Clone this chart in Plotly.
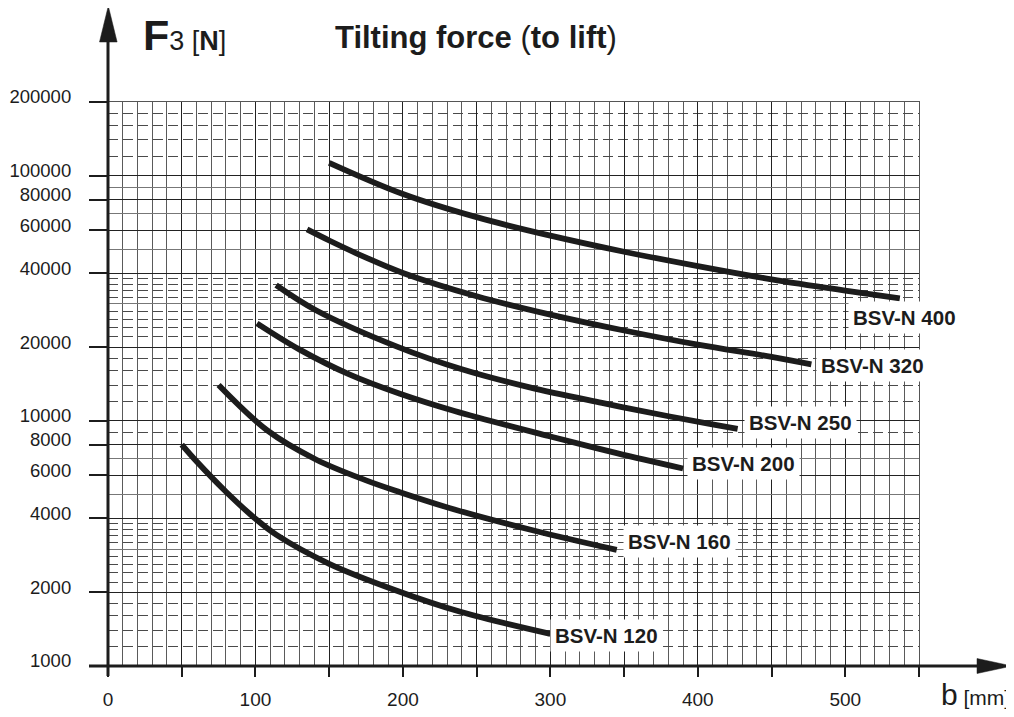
import numpy as np
import plotly.graph_objects as go

# ---------------- data ----------------
b_400 = [150, 200, 250, 300, 350, 400, 450, 500, 537]
f_400 = [113000, 84300, 67800, 57000, 49000, 42800, 37800, 34000, 31600]

b_320 = [135, 150, 175, 200, 250, 300, 350, 400, 450, 477]
f_320 = [60400, 54450, 46350, 40150, 32250, 27140, 23370, 20460, 18240, 17000]

b_250 = [114, 141, 196, 240, 286, 335, 381, 408, 427]
f_250 = [35800, 28280, 20090, 16240, 13700, 11840, 10420, 9730, 9280]

b_200 = [101, 130, 164, 198, 235, 300, 345, 390]
f_200 = [25000, 19530, 15440, 12900, 10970, 8635, 7390, 6395]

b_160 = [75, 108, 141, 175, 198, 235, 290, 345]
f_160 = [14000, 9145, 6960, 5720, 5120, 4352, 3555, 2977]

b_120 = [50, 60, 80, 101, 114, 150, 194, 239, 300]
f_120 = [8000, 6840, 5140, 3940, 3434, 2612, 2048, 1664, 1352]

series_names = ["BSV-N 400", "BSV-N 320", "BSV-N 250", "BSV-N 200", "BSV-N 160", "BSV-N 120"]
series_b = [b_400, b_320, b_250, b_200, b_160, b_120]
series_f = [f_400, f_320, f_250, f_200, f_160, f_120]

y_label_vals = [1000, 2000, 4000, 6000, 8000, 10000, 20000, 40000, 60000, 80000, 100000, 200000]
y_solid_unlabeled = [3000, 5000, 7000, 30000, 50000, 70000, 90000]
y_dashed = [1200, 1400, 1600, 1800, 2200, 2400, 2600, 2800, 3200, 3400, 3600, 3800, 9000,
            12000, 14000, 16000, 18000, 22000, 24000, 26000, 28000, 32000, 34000, 36000, 38000,
            120000, 140000, 160000, 180000]
x_tick_vals = [0, 50, 100, 150, 200, 250, 300, 350, 400, 450, 500, 550]
x_tick_text = ["0", "", "100", "", "200", "", "300", "", "400", "", "500", ""]

title_text = "<b>Tilting force </b>(<b>to lift</b>)"
y_title = "<span style='font-size:43px'><b>F</b></span>3 [<b>N</b>]"
x_title = "<span style='font-size:30px'>b</span> [mm]"

# ---------------- layout geometry (style) ----------------
OFF = 8  # page body margin
W, H = 1014 - OFF, 717 - OFF
ML, MR, MT, MB = 108 - OFF, 95, 102 - OFF, 51
PW, PH = W - ML - MR, H - MT - MB


def pxx(px):
    return (px - OFF - ML) / PW


def pxy(py):
    return (H + OFF - MB - py) / PH


INK = "#1c1c1c"
FONT = "Liberation Sans"

# label pixel offsets relative to the curve end (style)
label_offsets = {
    "BSV-N 400": (-52, -19),
    "BSV-N 320": (5, -1),
    "BSV-N 250": (6, 6),
    "BSV-N 200": (4, 5),
    "BSV-N 160": (6, 8),
    "BSV-N 120": (0, -2),
}

fig = go.Figure()

for i, (name, bx, fy) in enumerate(zip(series_names, series_b, series_f)):
    fig.add_trace(go.Scatter(
        x=bx, y=fy, mode="lines", name=name,
        line=dict(color=INK, width=5.8, shape="spline", smoothing=1.0),
        yaxis="y2" if i == len(series_names) - 1 else "y",
        showlegend=False, hoverinfo="skip",
    ))
    dx, dy = label_offsets[name]
    fig.add_annotation(
        x=bx[-1], y=np.log10(fy[-1]), xref="x", yref="y",
        text="<b>" + name + "</b>", showarrow=False,
        xanchor="left", yanchor="middle", xshift=dx, yshift=dy,
        bgcolor="white", borderpad=4,
        font=dict(family=FONT, size=20.5, color=INK),
    )

yrange = [3, np.log10(200000)]

fig.update_layout(
    width=W, height=H,
    margin=dict(l=ML, r=MR, t=MT, b=MB, pad=0, autoexpand=False),
    paper_bgcolor="white", plot_bgcolor="white",
    font=dict(family=FONT, color=INK),
    xaxis=dict(
        range=[0, 550], tickmode="array", tickvals=x_tick_vals, ticktext=x_tick_text,
        ticks="outside", ticklen=10, tickwidth=1.5, tickcolor=INK,
        showgrid=True, gridcolor="#222", gridwidth=1.2,
        minor=dict(dtick=10, tick0=0, showgrid=True, gridcolor="#5a5a5a", gridwidth=1.2, ticks=""),
        showline=True, mirror=True, linecolor="#555", linewidth=1.2,
        zeroline=False, tickfont=dict(family=FONT, size=19, color=INK),
        ticklabelstandoff=6, automargin=False,
    ),
    yaxis=dict(
        type="log", range=yrange, tickmode="array", tickvals=y_label_vals,
        ticktext=[str(v) for v in y_label_vals],
        ticks="outside", ticklen=18, tickwidth=1.5, tickcolor=INK,
        showgrid=True, gridcolor="#222", gridwidth=1.3,
        minor=dict(tickmode="array", tickvals=y_dashed, showgrid=True, gridcolor="#4a4a4a",
                   gridwidth=1.1, griddash="10px,5px", ticks=""),
        showline=True, mirror=True, linecolor="#555", linewidth=1.2,
        zeroline=False, tickfont=dict(family=FONT, size=18.5, color=INK),
        ticklabelstandoff=14, ticklabelshift=-5, automargin=False,
    ),
    yaxis2=dict(
        type="log", range=yrange, overlaying="y", side="left",
        tickmode="array", tickvals=y_solid_unlabeled, showticklabels=False, ticks="",
        showgrid=True, gridcolor="#777", gridwidth=1.2, zeroline=False, showline=False,
        automargin=False,
    ),
)

# axis lines with arrows
shapes = [
    dict(type="line", xref="paper", yref="paper", x0=pxx(89), x1=pxx(980), y0=0, y1=0,
         line=dict(color=INK, width=3)),
    dict(type="line", xref="paper", yref="paper", x0=0, x1=0, y0=pxy(676), y1=pxy(40),
         line=dict(color=INK, width=3)),
    dict(type="path", xref="paper", yref="paper",
         path=f"M {pxx(108.3)},{pxy(6)} L {pxx(99.5)},{pxy(42)} L {pxx(117.1)},{pxy(42)} Z",
         fillcolor=INK, line=dict(color=INK, width=0.5)),
    dict(type="path", xref="paper", yref="paper",
         path=f"M {pxx(1012)},{pxy(666)} L {pxx(977)},{pxy(658.5)} L {pxx(977)},{pxy(673.5)} Z",
         fillcolor=INK, line=dict(color=INK, width=0.5)),
]
fig.update_layout(shapes=shapes)

# titles
fig.add_annotation(xref="paper", yref="paper", x=pxx(141), y=pxy(35), text=y_title,
                   showarrow=False, xanchor="left", yanchor="middle",
                   font=dict(family=FONT, size=27, color=INK))
fig.add_annotation(xref="paper", yref="paper", x=pxx(333), y=pxy(37), text=title_text,
                   showarrow=False, xanchor="left", yanchor="middle",
                   font=dict(family=FONT, size=31, color=INK))
fig.add_annotation(xref="paper", yref="paper", x=pxx(939), y=pxy(694), text=x_title,
                   showarrow=False, xanchor="left", yanchor="middle",
                   font=dict(family=FONT, size=21, color=INK))

fig.write_html("out.html")
